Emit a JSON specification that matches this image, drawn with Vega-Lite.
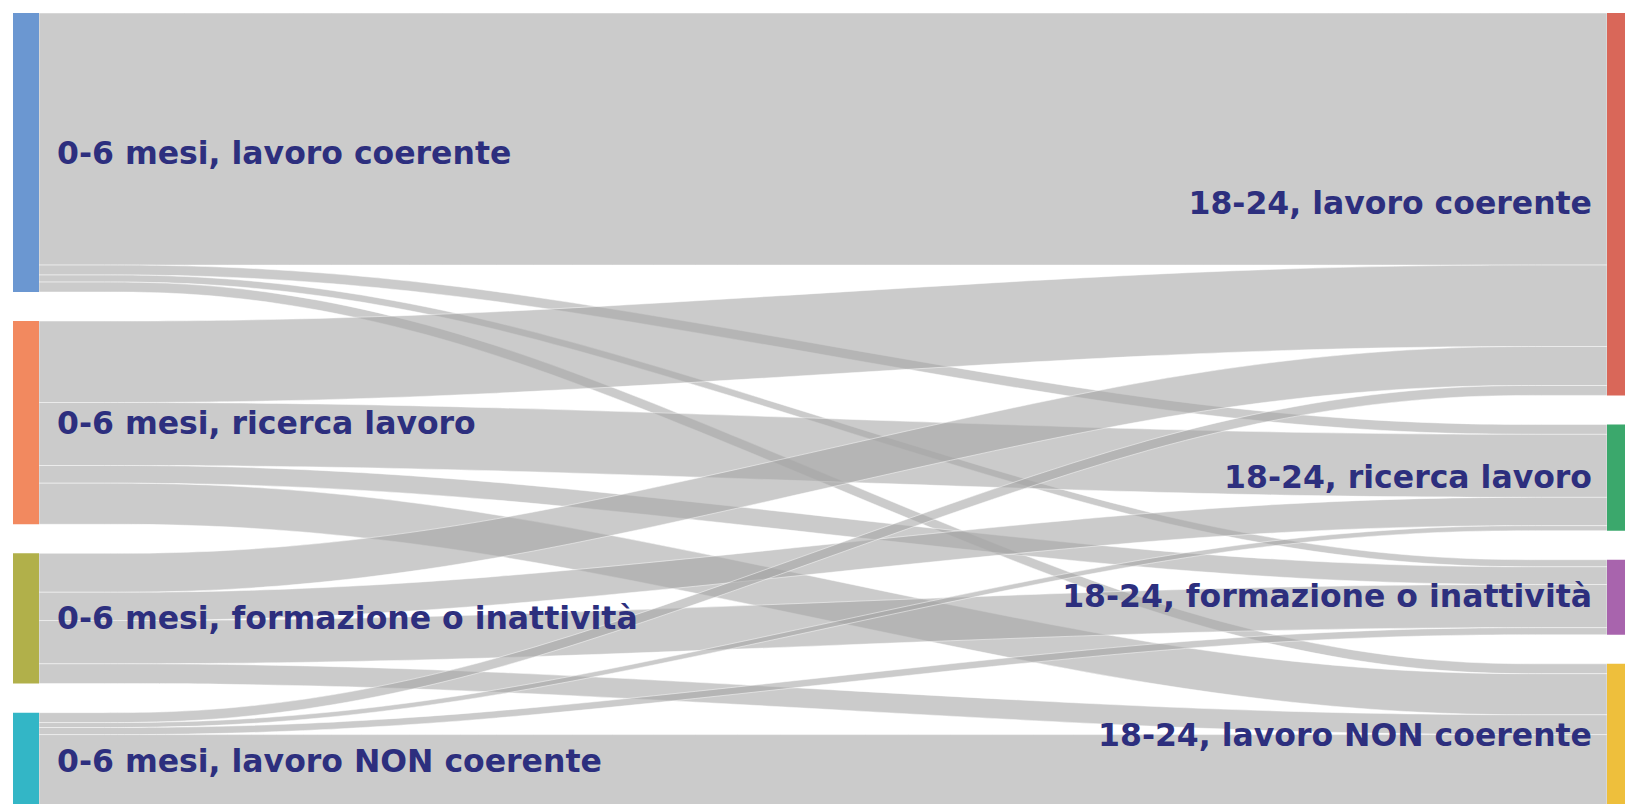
{
  "$schema": "https://vega.github.io/schema/vega-lite/v6.json",
  "width": 1568,
  "height": 791,
  "autosize": {"type": "none"},
  "padding": {"left": 39, "top": 13, "right": 18, "bottom": 0},
  "background": "white",
  "config": {"view": {"stroke": null}},
  "datasets": {
    "flows": [
      {"source": "0-6 mesi, lavoro coerente", "target": "18-24, lavoro coerente", "si": 0, "ti": 0, "value": 35.6},
      {"source": "0-6 mesi, lavoro coerente", "target": "18-24, ricerca lavoro", "si": 0, "ti": 1, "value": 1.4},
      {"source": "0-6 mesi, lavoro coerente", "target": "18-24, formazione o inattività", "si": 0, "ti": 2, "value": 1.0},
      {"source": "0-6 mesi, lavoro coerente", "target": "18-24, lavoro NON coerente", "si": 0, "ti": 3, "value": 1.4},
      {"source": "0-6 mesi, ricerca lavoro", "target": "18-24, lavoro coerente", "si": 1, "ti": 0, "value": 11.5},
      {"source": "0-6 mesi, ricerca lavoro", "target": "18-24, ricerca lavoro", "si": 1, "ti": 1, "value": 8.9},
      {"source": "0-6 mesi, ricerca lavoro", "target": "18-24, formazione o inattività", "si": 1, "ti": 2, "value": 2.5},
      {"source": "0-6 mesi, ricerca lavoro", "target": "18-24, lavoro NON coerente", "si": 1, "ti": 3, "value": 5.8},
      {"source": "0-6 mesi, formazione o inattività", "target": "18-24, lavoro coerente", "si": 2, "ti": 0, "value": 5.5},
      {"source": "0-6 mesi, formazione o inattività", "target": "18-24, ricerca lavoro", "si": 2, "ti": 1, "value": 4.0},
      {"source": "0-6 mesi, formazione o inattività", "target": "18-24, formazione o inattività", "si": 2, "ti": 2, "value": 6.1},
      {"source": "0-6 mesi, formazione o inattività", "target": "18-24, lavoro NON coerente", "si": 2, "ti": 3, "value": 2.8},
      {"source": "0-6 mesi, lavoro NON coerente", "target": "18-24, lavoro coerente", "si": 3, "ti": 0, "value": 1.4},
      {"source": "0-6 mesi, lavoro NON coerente", "target": "18-24, ricerca lavoro", "si": 3, "ti": 1, "value": 0.7},
      {"source": "0-6 mesi, lavoro NON coerente", "target": "18-24, formazione o inattività", "si": 3, "ti": 2, "value": 1.0},
      {"source": "0-6 mesi, lavoro NON coerente", "target": "18-24, lavoro NON coerente", "si": 3, "ti": 3, "value": 10.5}
    ]
  },
  "layer": [
    {
      "data": {"name": "flows"},
      "transform": [
        {"window": [{"op": "sum", "field": "value", "as": "cs"}], "sort": [{"field": "si"}, {"field": "ti"}]},
        {"window": [{"op": "sum", "field": "value", "as": "ct"}], "sort": [{"field": "ti"}, {"field": "si"}]},
        {"calculate": "datum.cs + datum.si * 4.1", "as": "sy1"},
        {"calculate": "datum.sy1 - datum.value", "as": "sy0"},
        {"calculate": "datum.ct + datum.ti * 4.1", "as": "ty1"},
        {"calculate": "datum.ty1 - datum.value", "as": "ty0"},
        {"calculate": "[0, 0.25, 0.75, 1]", "as": "px"},
        {"flatten": ["px"]},
        {"calculate": "datum.px < 0.5 ? datum.sy0 : datum.ty0", "as": "ya"},
        {"calculate": "datum.px < 0.5 ? datum.sy1 : datum.ty1", "as": "yb"}
      ],
      "mark": {"type": "area", "orient": "vertical", "interpolate": "basis", "fill": "#a6a6a6", "fillOpacity": 0.58, "stroke": "white", "strokeWidth": 0.8, "strokeOpacity": 0.6, "clip": true},
      "encoding": {
        "x": {"field": "px", "type": "quantitative", "scale": {"domain": [0, 1]}, "axis": null},
        "y": {"field": "ya", "type": "quantitative", "scale": {"domain": [0, 111.7], "reverse": true}, "axis": null, "stack": null},
        "y2": {"field": "yb"},
        "detail": [{"field": "source"}, {"field": "target"}]
      }
    },
    {
      "data": {"name": "flows"},
      "transform": [
        {"aggregate": [{"op": "sum", "field": "value", "as": "tot"}], "groupby": ["source", "si"]},
        {"window": [{"op": "sum", "field": "tot", "as": "cum"}], "sort": [{"field": "si"}]},
        {"calculate": "datum.cum + datum.si * 4.1", "as": "y1"},
        {"calculate": "datum.y1 - datum.tot", "as": "y0"},
        {"calculate": "(datum.y0 + datum.y1) / 2", "as": "ym"}
      ],
      "layer": [
        {
          "mark": {"type": "rect", "xOffset": -26, "x2Offset": 0},
          "encoding": {
            "x": {"datum": 0, "type": "quantitative", "scale": {"domain": [0, 1]}, "axis": null},
            "x2": {"datum": 0},
            "y": {"field": "y0", "type": "quantitative", "scale": {"domain": [0, 111.7], "reverse": true}, "axis": null},
            "y2": {"field": "y1"},
            "color": {
              "field": "source", "type": "nominal", "legend": null,
              "scale": {
                "domain": ["0-6 mesi, lavoro coerente", "0-6 mesi, ricerca lavoro", "0-6 mesi, formazione o inattività", "0-6 mesi, lavoro NON coerente", "18-24, lavoro coerente", "18-24, ricerca lavoro", "18-24, formazione o inattività", "18-24, lavoro NON coerente"],
                "range": ["#6b97d1", "#f2895f", "#b1b04a", "#33b6c6", "#d96759", "#3ba86c", "#a864ad", "#eebf3c"]
              }
            }
          }
        },
        {
          "mark": {"type": "text", "align": "left", "baseline": "middle", "dx": 18, "dy": 2, "font": "DejaVu Sans", "fontWeight": "bold", "fontSize": 31.5, "fill": "#2d2f7e"},
          "encoding": {
            "x": {"datum": 0, "type": "quantitative", "scale": {"domain": [0, 1]}, "axis": null},
            "y": {"field": "ym", "type": "quantitative", "scale": {"domain": [0, 111.7], "reverse": true}, "axis": null},
            "text": {"field": "source"}
          }
        }
      ]
    },
    {
      "data": {"name": "flows"},
      "transform": [
        {"aggregate": [{"op": "sum", "field": "value", "as": "tot"}], "groupby": ["target", "ti"]},
        {"window": [{"op": "sum", "field": "tot", "as": "cum"}], "sort": [{"field": "ti"}]},
        {"calculate": "datum.cum + datum.ti * 4.1", "as": "y1"},
        {"calculate": "datum.y1 - datum.tot", "as": "y0"},
        {"calculate": "(datum.y0 + datum.y1) / 2", "as": "ym"}
      ],
      "layer": [
        {
          "mark": {"type": "rect", "xOffset": 0, "x2Offset": 18},
          "encoding": {
            "x": {"datum": 1, "type": "quantitative", "scale": {"domain": [0, 1]}, "axis": null},
            "x2": {"datum": 1},
            "y": {"field": "y0", "type": "quantitative", "scale": {"domain": [0, 111.7], "reverse": true}, "axis": null},
            "y2": {"field": "y1"},
            "color": {
              "field": "target", "type": "nominal", "legend": null,
              "scale": {
                "domain": ["0-6 mesi, lavoro coerente", "0-6 mesi, ricerca lavoro", "0-6 mesi, formazione o inattività", "0-6 mesi, lavoro NON coerente", "18-24, lavoro coerente", "18-24, ricerca lavoro", "18-24, formazione o inattività", "18-24, lavoro NON coerente"],
                "range": ["#6b97d1", "#f2895f", "#b1b04a", "#33b6c6", "#d96759", "#3ba86c", "#a864ad", "#eebf3c"]
              }
            }
          }
        },
        {
          "mark": {"type": "text", "align": "right", "baseline": "middle", "dx": -15, "dy": 1, "font": "DejaVu Sans", "fontWeight": "bold", "fontSize": 31.5, "fill": "#2d2f7e"},
          "encoding": {
            "x": {"datum": 1, "type": "quantitative", "scale": {"domain": [0, 1]}, "axis": null},
            "y": {"field": "ym", "type": "quantitative", "scale": {"domain": [0, 111.7], "reverse": true}, "axis": null},
            "text": {"field": "target"}
          }
        }
      ]
    }
  ]
}
